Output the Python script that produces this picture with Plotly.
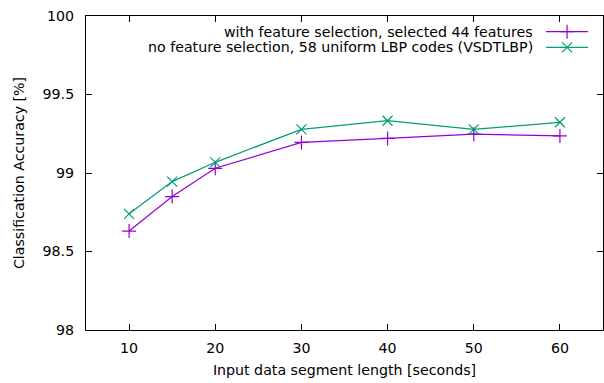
import plotly.graph_objects as go

x_vals = [10, 15, 20, 30, 40, 50, 60]
with_fs = [98.63, 98.85, 99.03, 99.195, 99.22, 99.247, 99.236]
no_fs = [98.74, 98.945, 99.068, 99.278, 99.333, 99.278, 99.323]
series_names = [
    "with feature selection, selected 44 features",
    "no feature selection, 58 uniform LBP codes (VSDTLBP)",
]
colors = ["#9400D3", "#009E73"]
symbols = ["cross-thin", "x-thin"]
x_ticks = [10, 20, 30, 40, 50, 60]
y_ticks = [98, 98.5, 99, 99.5, 100]
y_tick_text = ["98", "98.5", "99", "99.5", "100"]

FONT = "DejaVu Sans"
FS = 14.2
fig = go.Figure()
for ys, name, c, s in zip([with_fs, no_fs], series_names, colors, symbols):
    fig.add_trace(go.Scatter(
        x=x_vals, y=ys, mode="lines+markers", name=name,
        line=dict(color=c, width=1.2),
        marker=dict(symbol=s, size=10, line=dict(color=c, width=1.2), color=c),
        showlegend=False,
    ))

# custom gnuplot-style legend (text right, sample on right)
legend_y = [0.95, 0.90]
for i, (name, c, s) in enumerate(zip(series_names, colors, symbols)):
    fig.add_annotation(xref="paper", yref="paper", x=0.868, y=legend_y[i],
                       text=name, showarrow=False, xanchor="right", yanchor="middle",
                       font=dict(family=FONT, size=FS, color="black"))
    fig.add_shape(type="line", xref="paper", yref="paper", x0=0.890, x1=0.971,
                  y0=legend_y[i], y1=legend_y[i], line=dict(color=c, width=1.2))
    fig.add_trace(go.Scatter(x=[0.9305], y=[legend_y[i]], xaxis="x2", yaxis="y2",
                             mode="markers", showlegend=False, hoverinfo="skip",
                             marker=dict(symbol=s, size=10, line=dict(color=c, width=1.2), color=c)))

axis_common = dict(showgrid=False, zeroline=False, showline=True, linecolor="black",
                   linewidth=1, mirror="allticks", ticks="inside", ticklen=6,
                   tickcolor="black", tickfont=dict(family=FONT, size=FS, color="black"))
fig.update_layout(
    width=604, height=383,
    margin=dict(l=86, r=1, t=16, b=53),
    paper_bgcolor="white", plot_bgcolor="white",
    font=dict(family=FONT, size=FS, color="black"),
    xaxis=dict(range=[5, 65], tickvals=x_ticks,
               title=dict(text="Input data segment length [seconds]", standoff=10,
                          font=dict(family=FONT, size=FS)),
               ticklabelstandoff=5, **axis_common),
    yaxis=dict(range=[98, 100], tickvals=y_ticks, ticktext=y_tick_text,
               title=dict(text="Classification Accuracy [%]", standoff=14,
                          font=dict(family=FONT, size=FS)),
               ticklabelstandoff=8, **axis_common),
    xaxis2=dict(range=[0, 1], overlaying="x", visible=False, fixedrange=True),
    yaxis2=dict(range=[0, 1], overlaying="y", visible=False, fixedrange=True),
)
fig.write_html("out.html")
